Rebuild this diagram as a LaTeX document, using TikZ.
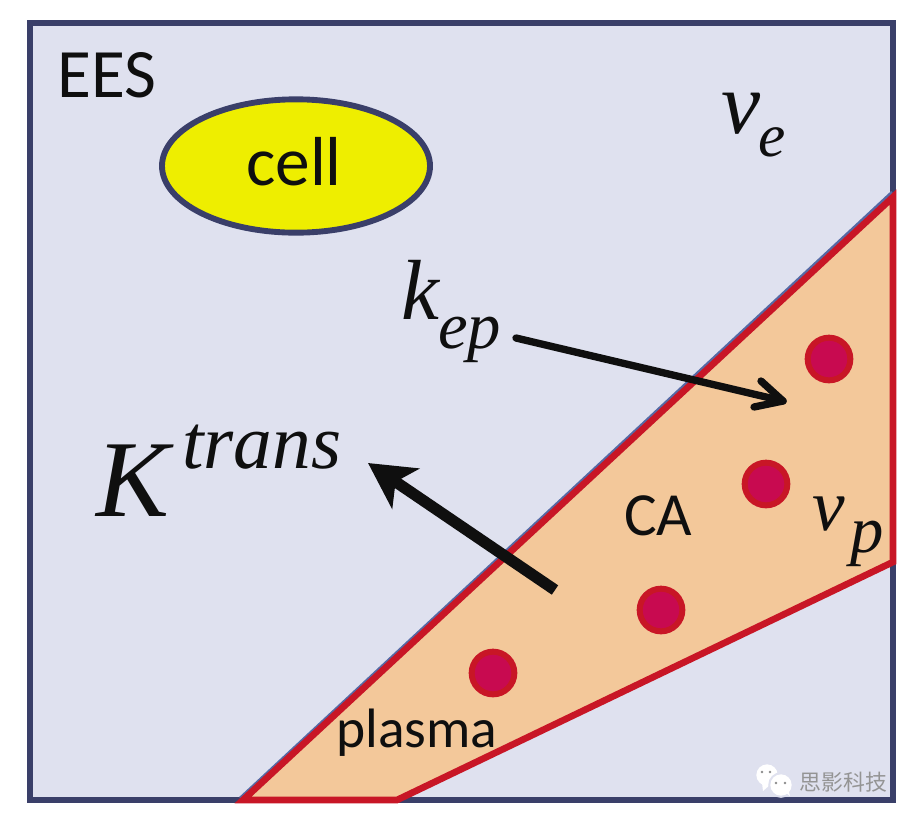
\documentclass[tikz,border=0pt]{standalone}
\usepackage{fontspec}
\usetikzlibrary{arrows.meta,shapes.geometric}
\setmainfont{Carlito}
\newfontfamily\serifit[Ligatures=TeX]{Liberation Serif}
\newfontfamily\wmfont{Noto Sans CJK SC}
\definecolor{eesbg}{RGB}{223,225,239}
\definecolor{eesframe}{RGB}{58,63,105}
\definecolor{edgeblue}{RGB}{85,105,165}
\definecolor{plasmafill}{RGB}{243,200,154}
\definecolor{plasmared}{RGB}{200,22,38}
\definecolor{cellfill}{RGB}{238,238,0}
\definecolor{dotfill}{RGB}{200,10,80}
\definecolor{inkblack}{RGB}{15,15,15}
\tikzset{
  lbl/.style={text=inkblack,inner sep=0pt,font=\fontsize{#1}{#1}\selectfont},
  mathlbl/.style={text=inkblack,inner sep=0pt,font=\serifit\itshape\fontsize{#1}{#1}\selectfont},
  dotc/.style={circle,fill=dotfill,draw=plasmared,line width=4.5pt,minimum size=32pt,inner sep=0pt},
  thinarrow/.style={draw=inkblack,line width=5.5pt,line cap=round,line join=round},
  fatarrow/.style={draw=inkblack,line width=8.5pt,-{Stealth[length=34pt,width=36pt,inset=9pt]}},
  wmtext/.style={inner sep=0pt,anchor=base west,font=\wmfont\fontsize{16.4}{16.4}\selectfont}
}
\begin{document}
\begin{tikzpicture}[x=0.75pt,y=-0.75pt]
\useasboundingbox (0,0) rectangle (916,822);
\fill[white] (0,0) rectangle (916,822);
\draw[fill=eesbg,draw=eesframe,line width=4.6pt] (30,23) rectangle (893,800);
\draw[edgeblue,line width=2pt] (892,192) -- (240,798);
\draw[fill=plasmafill,draw=plasmared,line width=5pt,line join=miter] (893,197) -- (893,562) -- (397,800) -- (243,800) -- cycle;
% labels
\node[lbl=52,anchor=base west] (ees) at (57,97) {EES};
\node[ellipse,fill=cellfill,draw=eesframe,line width=4.4pt,minimum width=201pt,minimum height=100pt,inner sep=0pt] (cell) at (296,166) {};
\node[lbl=52,anchor=base] (celltext) at (294,185) {cell};
\node[mathlbl=66,anchor=base west] (ve) at (721,133) {v};
\node[mathlbl=46,anchor=base west] (vesub) at (758,156) {e};
\node[mathlbl=64,anchor=base west] (kk) at (401,319) {k};
\node[mathlbl=50,anchor=base west] (kep) at (438,348) {ep};
\node[mathlbl=82,anchor=base west] (kt) at (96,516) {K};
\node[mathlbl=58,anchor=base west] (ktr) at (182,468) {trans};
\node[lbl=46,anchor=base west] (ca) at (624,535) {CA};
\node[lbl=41.6,anchor=base west] (plasma) at (336,747) {plasma};
\node[mathlbl=55,anchor=base west] (vp) at (812,530) {v};
\node[mathlbl=50,anchor=base west] (vpsub) at (850,552) {p};
% dots
\node[dotc] (d1) at (829,359) {};
\node[dotc] (d2) at (766,484) {};
\node[dotc] (d3) at (661,610) {};
\node[dotc] (d4) at (493,673) {};
% arrows
\coordinate (a1s) at (516,338);
\coordinate (a1e) at (783,401);
\coordinate (a1u) at (761,381);
\coordinate (a1l) at (754,407);
\draw[thinarrow] (a1s) -- (a1e);
\draw[thinarrow] (a1u) -- (a1e) -- (a1l);
\coordinate (a2s) at (555,590);
\coordinate (a2e) at (368,463);
\draw[fatarrow] (a2s) -- (a2e);
% watermark
\fill[white] (767,775) ellipse [x radius=8pt,y radius=8pt];
\fill[white] (762,783) -- (763,791) -- (771,784) -- cycle;
\fill[eesbg] (781,785) circle (9.6pt);
\fill[white] (781,785) circle (8pt);
\fill[white] (785,792) -- (790,796) -- (788,789) -- cycle;
\foreach \ex/\ey in {762/772,770/772,776/783,785/783}{\fill[black!45] (\ex,\ey) circle (1pt);}
\node[wmtext,text=black!42] (wm) at (799.5,790) {思影科技};
\end{tikzpicture}
\end{document}
